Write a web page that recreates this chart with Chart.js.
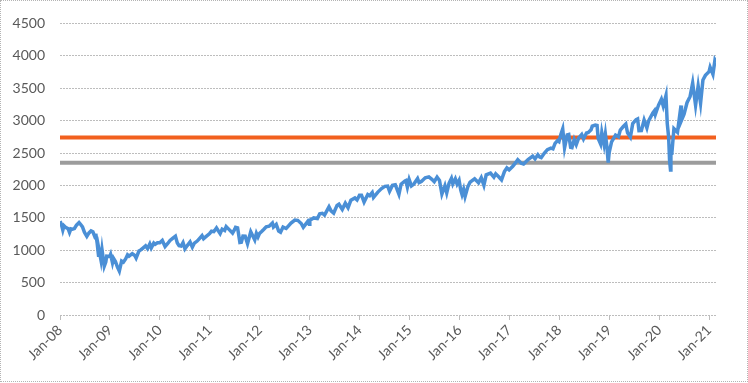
<!DOCTYPE html>
<html>
<head>
<meta charset="utf-8">
<title>S&amp;P 500 2008-2021</title>
<script src="https://cdn.jsdelivr.net/npm/chart.js@4.4.1/dist/chart.umd.min.js"></script>
<style>
    body { margin: 0; background: #fff; }
    #wrap { position: relative; width: 748px; height: 383px; }
    #frame {
        position: absolute; left: 0; top: 0; width: 748px; height: 382px;
        box-sizing: border-box; border: 1px dotted #b4b4b4; pointer-events: none;
    }
</style>
</head>
<body>
<div id="wrap">
    <canvas id="chart" width="748" height="383"></canvas>
    <div id="frame"></div>
</div>
<script>
// ============================================================================
// Data
// ============================================================================

const tickLabels = ['Jan-08', 'Jan-09', 'Jan-10', 'Jan-11', 'Jan-12', 'Jan-13', 'Jan-14',
    'Jan-15', 'Jan-16', 'Jan-17', 'Jan-18', 'Jan-19', 'Jan-20', 'Jan-21'];

const upperLevel = 2740;
const lowerLevel = 2350;

const spxDates = [
    '2008-01-02','2008-01-11','2008-01-22','2008-01-31','2008-02-14','2008-02-29','2008-03-10','2008-03-20','2008-03-31','2008-04-15','2008-04-30','2008-05-19','2008-05-30','2008-06-13','2008-06-27','2008-07-15','2008-07-31','2008-08-15','2008-08-29','2008-09-15','2008-09-19','2008-09-29','2008-10-10','2008-10-13','2008-10-27','2008-11-04','2008-11-20','2008-12-01','2008-12-08','2008-12-31',
    '2009-01-06','2009-01-20','2009-01-28','2009-02-10','2009-02-23','2009-03-09','2009-03-26','2009-04-08','2009-04-24','2009-05-08','2009-05-19','2009-06-12','2009-06-30','2009-07-10','2009-07-31','2009-08-14','2009-08-28','2009-09-18','2009-10-02','2009-10-19','2009-10-30','2009-11-17','2009-11-27','2009-12-14','2009-12-31',
    '2010-01-19','2010-02-08','2010-02-26','2010-03-15','2010-04-05','2010-04-23','2010-05-07','2010-05-20','2010-06-04','2010-06-18','2010-07-02','2010-07-19','2010-08-09','2010-08-26','2010-09-10','2010-09-30','2010-10-15','2010-11-05','2010-11-16','2010-12-01','2010-12-31',
    '2011-01-14','2011-01-31','2011-02-18','2011-03-16','2011-03-31','2011-04-18','2011-04-29','2011-05-16','2011-06-15','2011-06-30','2011-07-07','2011-07-22','2011-08-08','2011-08-19','2011-08-31','2011-09-16','2011-10-03','2011-10-27','2011-11-25','2011-12-07','2011-12-19','2011-12-30',
    '2012-01-17','2012-02-01','2012-02-17','2012-03-09','2012-04-02','2012-04-10','2012-04-30','2012-05-18','2012-06-01','2012-06-19','2012-07-12','2012-07-31','2012-08-17','2012-09-14','2012-10-05','2012-10-31','2012-11-15','2012-12-04','2012-12-18','2012-12-28',
    '2013-01-02','2013-01-31','2013-02-25','2013-03-14','2013-04-02','2013-04-18','2013-05-21','2013-06-05','2013-06-24','2013-07-19','2013-08-02','2013-08-27','2013-09-18','2013-10-08','2013-10-29','2013-11-27','2013-12-13','2013-12-31',
    '2014-01-15','2014-02-03','2014-02-28','2014-03-14','2014-04-02','2014-04-11','2014-05-13','2014-06-09','2014-07-03','2014-07-24','2014-08-07','2014-08-29','2014-09-18','2014-10-15','2014-10-31','2014-11-28','2014-12-05','2014-12-16','2014-12-29',
    '2015-01-15','2015-02-02','2015-02-27','2015-03-10','2015-03-27','2015-04-24','2015-05-21','2015-06-12','2015-06-29','2015-07-20','2015-08-07','2015-08-25','2015-09-16','2015-09-29','2015-10-16','2015-11-03','2015-11-13','2015-12-01','2015-12-14','2015-12-29',
    '2016-01-11','2016-01-20','2016-02-01','2016-02-11','2016-03-01','2016-03-18','2016-04-20','2016-05-19','2016-06-08','2016-06-27','2016-07-14','2016-08-15','2016-09-09','2016-09-22','2016-10-14','2016-11-04','2016-11-25','2016-12-13','2016-12-30',
    '2017-01-26','2017-02-15','2017-03-01','2017-03-27','2017-04-13','2017-05-16','2017-06-19','2017-07-06','2017-07-27','2017-08-10','2017-08-21','2017-09-12','2017-10-05','2017-10-31','2017-11-15','2017-11-30','2017-12-18','2017-12-29',
    '2018-01-12','2018-01-26','2018-02-08','2018-02-26','2018-03-09','2018-03-23','2018-04-02','2018-04-18','2018-05-03','2018-05-21','2018-06-12','2018-06-25','2018-07-17','2018-07-31','2018-08-20','2018-08-29','2018-09-20','2018-10-03','2018-10-11','2018-10-29','2018-11-07','2018-11-23','2018-12-03','2018-12-14','2018-12-24','2018-12-31',
    '2019-01-18','2019-02-15','2019-03-07','2019-03-21','2019-04-12','2019-04-30','2019-05-13','2019-06-03','2019-06-20','2019-07-15','2019-07-26','2019-08-05','2019-08-23','2019-09-12','2019-10-02','2019-10-15','2019-11-15','2019-11-27','2019-12-03','2019-12-27',
    '2020-01-17','2020-01-31','2020-02-19','2020-02-28','2020-03-09','2020-03-16','2020-03-23','2020-03-26','2020-04-01','2020-04-17','2020-05-13','2020-06-08','2020-06-11','2020-06-30','2020-07-22','2020-08-14','2020-09-02','2020-09-23','2020-10-12','2020-10-30','2020-11-16','2020-12-04','2020-12-31',
    '2021-01-08','2021-01-29','2021-02-12','2021-02-19'
];

const spxValues = [
    1447,1401,1310,1378,1348,1330,1273,1329,1323,1335,1386,1426,1400,1360,1278,1214,1267,1298,1283,1193,1255,1106,899,1003,848,1005,752,816,909,903,
    935,805,874,827,743,677,832,815,866,929,908,946,919,879,987,1004,1029,1068,1025,1097,1036,1110,1091,1114,1115,
    1150,1056,1104,1150,1187,1217,1110,1071,1064,1117,1022,1071,1127,1047,1110,1141,1176,1225,1178,1206,1258,
    1293,1286,1343,1256,1326,1305,1364,1329,1265,1321,1353,1345,1119,1124,1219,1216,1099,1285,1159,1261,1205,1258,
    1293,1324,1361,1371,1419,1358,1398,1295,1278,1357,1335,1379,1418,1465,1461,1412,1353,1407,1446,1402,
    1462,1498,1488,1563,1570,1541,1669,1608,1573,1692,1710,1630,1725,1656,1772,1807,1775,1848,
    1848,1742,1859,1841,1890,1815,1897,1951,1985,1988,1909,2003,2011,1862,2018,2068,2075,1973,2090,
    1992,2021,2105,2044,2061,2117,2131,2094,2057,2129,2078,1867,1996,1884,2033,2109,2023,2102,2021,2078,
    1923,1859,1940,1829,1978,2050,2102,2040,2119,2001,2163,2190,2128,2177,2133,2085,2213,2271,2239,
    2296,2350,2396,2341,2329,2400,2453,2409,2475,2438,2428,2496,2552,2575,2564,2648,2690,2674,
    2786,2873,2581,2780,2786,2588,2582,2708,2630,2733,2786,2717,2809,2816,2857,2914,2931,2925,2728,2641,2814,2633,2790,2600,2351,2507,
    2671,2776,2749,2855,2908,2946,2812,2745,2954,3014,3026,2845,2847,3009,2888,2996,3120,3154,3094,3240,
    3330,3226,3386,2954,2747,2386,2237,2630,2471,2875,2820,3232,3002,3100,3276,3373,3580,3237,3534,3270,3627,3699,3756,
    3824,3714,3934,3906
];

// ============================================================================
// Helpers
// ============================================================================

/**
 * Date string -> months since Jan 2008
 */
function toMonths(str) {
    const [y, m, d] = str.split('-').map(Number);
    const daysInMonth = new Date(y, m, 0).getDate();
    return (y - 2008) * 12 + (m - 1) + (d - 1) / daysInMonth;
}

const spxPoints = spxDates.map((d, i) => ({ x: toMonths(d), y: spxValues[i] }));
const xMin = 0;
const xMax = spxPoints[spxPoints.length - 1].x;

function levelLine(value) {
    return [{ x: xMin, y: value }, { x: xMax, y: value }];
}

// ============================================================================
// Chart
// ============================================================================

const axisFont = { family: 'Lato', size: 14 };
const gridColor = '#bdbdbd';

new Chart(document.getElementById('chart'), {
    type: 'line',
    data: {
        datasets: [
            {
                label: 'S&P 500',
                data: spxPoints,
                borderColor: '#4a8fd6',
                borderWidth: 3.5,
                pointRadius: 0,
                tension: 0,
                order: 0
            },
            {
                label: 'Upper level',
                data: levelLine(upperLevel),
                borderColor: '#f2601e',
                borderWidth: 4,
                pointRadius: 0,
                order: 1
            },
            {
                label: 'Lower level',
                data: levelLine(lowerLevel),
                borderColor: '#9c9c9c',
                borderWidth: 4,
                pointRadius: 0,
                order: 2
            }
        ]
    },
    options: {
        responsive: false,
        animation: false,
        layout: {
            padding: { top: 19, right: 32, bottom: 0, left: 0 }
        },
        plugins: {
            legend: { display: false },
            tooltip: { enabled: false }
        },
        scales: {
            x: {
                type: 'linear',
                min: xMin,
                max: xMax,
                afterBuildTicks: function(scale) {
                    scale.ticks = tickLabels.map((_, i) => ({ value: i * 12 }));
                },
                afterFit: function(scale) {
                    scale.height = 68;
                },
                ticks: {
                    autoSkip: false,
                    maxRotation: 45,
                    minRotation: 45,
                    padding: 2,
                    color: '#595959',
                    font: axisFont,
                    callback: function(value) {
                        return tickLabels[Math.round(value / 12)];
                    }
                },
                grid: {
                    drawOnChartArea: false,
                    drawTicks: true,
                    tickLength: 5,
                    color: gridColor
                },
                border: { display: false }
            },
            y: {
                min: 0,
                max: 4500,
                afterFit: function(scale) {
                    scale.width = 60;
                },
                ticks: {
                    stepSize: 500,
                    padding: 15,
                    color: '#595959',
                    font: axisFont,
                    callback: function(value) {
                        return String(value);
                    }
                },
                grid: {
                    drawTicks: false,
                    color: gridColor
                },
                border: { display: false, dash: [2, 1] }
            }
        }
    }
});
</script>
</body>
</html>
